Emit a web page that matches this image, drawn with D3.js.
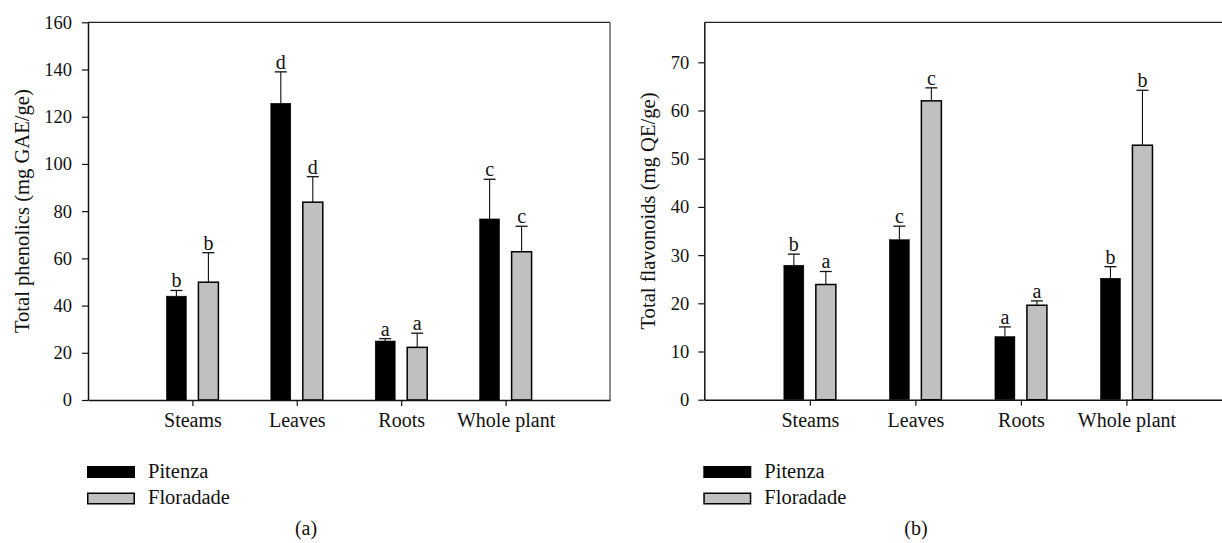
<!DOCTYPE html>
<html>
<head>
<meta charset="utf-8">
<script src="https://cdn.jsdelivr.net/npm/d3@7"></script>
<style>
  html, body { margin: 0; padding: 0; background: #fff; }
  svg { display: block; }
  text { font-family: "Liberation Serif", "Times New Roman", serif; fill: #111; }
</style>
</head>
<body>
<svg id="chart" width="1222" height="543"></svg>
<script>
// ---------- data ----------
const categories = ["Steams", "Leaves", "Roots", "Whole plant"];
const seriesNames = ["Pitenza", "Floradade"];

const phenolicsPitenza     = [44.0, 125.7, 25.0, 76.7];
const phenolicsPitenzaErr  = [2.4, 13.3, 1.0, 16.8];
const phenolicsFloradade   = [49.9, 83.8, 22.3, 62.8];
const phenolicsFloradadeErr= [12.5, 10.8, 6.0, 10.8];
const phenolicsPitenzaLetters   = ["b", "d", "a", "c"];
const phenolicsFloradadeLetters = ["b", "d", "a", "c"];
const phenolicsTicks = [0, 20, 40, 60, 80, 100, 120, 140, 160];

const flavonoidsPitenza     = [27.9, 33.2, 13.1, 25.2];
const flavonoidsPitenzaErr  = [2.3, 2.8, 2.0, 2.4];
const flavonoidsFloradade   = [23.9, 62.0, 19.6, 52.8];
const flavonoidsFloradadeErr= [2.7, 2.7, 0.9, 11.4];
const flavonoidsPitenzaLetters   = ["b", "c", "a", "b"];
const flavonoidsFloradadeLetters = ["a", "c", "a", "b"];
const flavonoidsTicks = [0, 10, 20, 30, 40, 50, 60, 70];

const seriesFill = ["#000000", "#c0c0c0"];

// ---------- drawing ----------
const svg = d3.select("#chart");

function drawPanel(cfg) {
  const g = svg.append("g");
  const x = d3.scaleLinear().domain([0, 5]).range([cfg.left, cfg.right]);
  const y = d3.scaleLinear().domain([0, cfg.ymax]).range([cfg.bottom, cfg.top]);
  const sub = d3.scaleBand().domain(seriesNames).range([-26, 26]).paddingInner(0.375).paddingOuter(0);

  // frame (top + right)
  g.append("line").attr("x1", x(0)).attr("x2", x(5)).attr("y1", y(cfg.ymax)).attr("y2", y(cfg.ymax))
    .attr("stroke", "#222").attr("stroke-width", 1.2);
  g.append("line").attr("x1", x(5)).attr("x2", x(5)).attr("y1", y(cfg.ymax)).attr("y2", y(0))
    .attr("stroke", "#444").attr("stroke-width", 1.2);

  const data = [];
  categories.forEach((c, i) => {
    cfg.series.forEach((s, j) => {
      data.push({ cat: c, i: i, name: seriesNames[j], j: j, v: s.values[i], e: s.err[i], letter: s.letters[i] });
    });
  });

  // bars
  g.selectAll("rect.bar").data(data).enter().append("rect")
    .attr("class", "bar")
    .attr("x", d => x(d.i + 1) + sub(d.name))
    .attr("width", sub.bandwidth())
    .attr("y", d => y(d.v))
    .attr("height", d => y(0) - y(d.v))
    .attr("fill", d => seriesFill[d.j])
    .attr("stroke", "#000")
    .attr("stroke-width", d => d.j === 1 ? 1.5 : 0.5);

  // error bars
  const cx = d => x(d.i + 1) + sub(d.name) + sub.bandwidth() / 2;
  g.selectAll("line.err").data(data).enter().append("line")
    .attr("x1", cx).attr("x2", cx)
    .attr("y1", d => y(d.v)).attr("y2", d => y(d.v + d.e))
    .attr("stroke", "#111").attr("stroke-width", 1.1);
  g.selectAll("line.cap").data(data).enter().append("line")
    .attr("x1", d => cx(d) - 6).attr("x2", d => cx(d) + 6)
    .attr("y1", d => y(d.v + d.e)).attr("y2", d => y(d.v + d.e))
    .attr("stroke", "#111").attr("stroke-width", 1.3);

  // letters
  g.selectAll("text.letter").data(data).enter().append("text")
    .attr("x", cx)
    .attr("y", d => y(d.v + d.e) - 3)
    .attr("text-anchor", "middle")
    .style("font-size", "20px")
    .text(d => d.letter);

  // y axis
  const yAxis = d3.axisLeft(y).tickValues(cfg.ticks).tickSize(6).tickPadding(cfg.yPad).tickSizeOuter(0);
  const ya = g.append("g").attr("transform", `translate(${x(0)},0)`).call(yAxis);
  ya.select(".domain").attr("stroke", "#111").attr("stroke-width", 1.5);
  ya.selectAll(".tick line").attr("stroke", "#111").attr("stroke-width", 1.2);
  ya.selectAll(".tick text").style("font-size", "18.5px").style("font-family", '"Liberation Serif", serif').attr("fill", "#111");

  // x axis
  const xAxis = d3.axisBottom(x).tickValues([1, 2, 3, 4]).tickFormat(d => categories[d - 1])
    .tickSize(6).tickPadding(7).tickSizeOuter(0);
  const xa = g.append("g").attr("transform", `translate(0,${y(0)})`).call(xAxis);
  xa.select(".domain").attr("stroke", "#111").attr("stroke-width", 1.6);
  xa.selectAll(".tick line").attr("stroke", "#111").attr("stroke-width", 1.2);
  xa.selectAll(".tick text").style("font-size", "20px").style("font-family", '"Liberation Serif", serif').attr("fill", "#111");

  // y title
  g.append("text")
    .attr("transform", `translate(${cfg.titleX},${(y(0) + y(cfg.ymax)) / 2}) rotate(-90)`)
    .attr("text-anchor", "middle")
    .attr("dy", "0.35em")
    .style("font-size", "20.6px")
    .text(cfg.title);

  // legend
  const lg = g.append("g").attr("transform", `translate(${x(0) - 1},466)`);
  seriesNames.forEach((n, j) => {
    lg.append("rect").attr("x", j === 1 ? 0.75 : 0).attr("y", j * 26.5 + (j === 1 ? 0.75 : 0))
      .attr("width", j === 1 ? 46.5 : 48).attr("height", j === 1 ? 10.5 : 12)
      .attr("fill", seriesFill[j]).attr("stroke", j === 1 ? "#000" : "none").attr("stroke-width", 1.5);
    lg.append("text").attr("x", 61).attr("y", j * 26.5 + 11.5)
      .style("font-size", "20.5px").text(n);
  });

  // panel label
  g.append("text").attr("x", cfg.labelX).attr("y", 535).attr("text-anchor", "middle")
    .style("font-size", "20px").text(cfg.label);
}

drawPanel({
  left: 88, right: 610, top: 22.3, bottom: 400, ymax: 160, ticks: phenolicsTicks, yPad: 10,
  title: "Total phenolics (mg GAE/ge)", titleX: 22, label: "(a)", labelX: 306,
  series: [
    { values: phenolicsPitenza, err: phenolicsPitenzaErr, letters: phenolicsPitenzaLetters },
    { values: phenolicsFloradade, err: phenolicsFloradadeErr, letters: phenolicsFloradadeLetters }
  ]
});

drawPanel({
  left: 704.3, right: 1232, top: 22.3, bottom: 399.7, ymax: 78.3, ticks: flavonoidsTicks, yPad: 9,
  title: "Total flavonoids (mg QE/ge)", titleX: 648, label: "(b)", labelX: 916,
  series: [
    { values: flavonoidsPitenza, err: flavonoidsPitenzaErr, letters: flavonoidsPitenzaLetters },
    { values: flavonoidsFloradade, err: flavonoidsFloradadeErr, letters: flavonoidsFloradadeLetters }
  ]
});
</script>
</body>
</html>
